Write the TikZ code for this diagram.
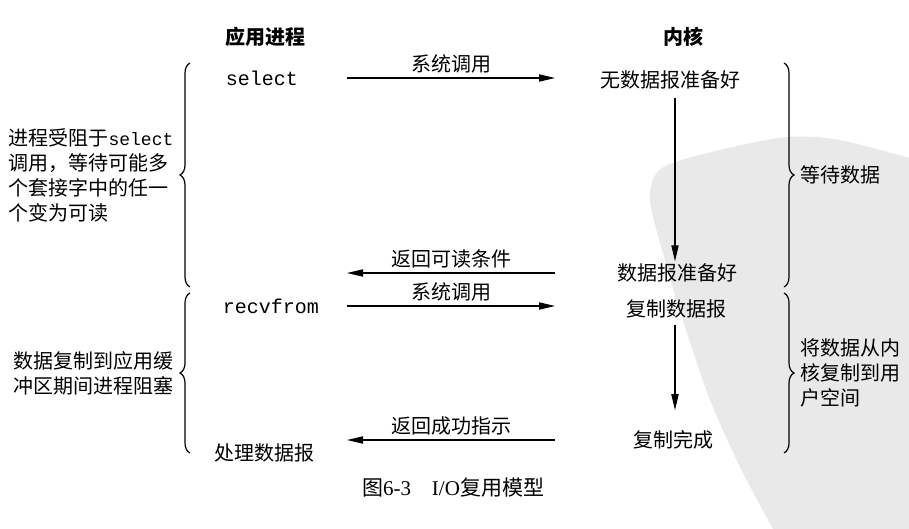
\documentclass[tikz,border=0pt]{standalone}
\usepackage{fontspec}
\setmainfont{Liberation Serif}
\newfontfamily\cjk{Noto Sans CJK SC}
\newfontfamily\mono{Liberation Mono}
\usetikzlibrary{positioning,arrows.meta,calc,decorations.pathreplacing}
\definecolor{wmgray}{HTML}{E9E9E9}

\begin{document}
\begin{tikzpicture}[x=0.5pt,y=-0.5pt,
 lbl/.style={font=\cjk\fontsize{10}{12.5}\selectfont,inner sep=1pt,align=left},
 head/.style={lbl,font=\cjk\bfseries\fontsize{10}{12.5}\selectfont},
 code/.style={font=\mono\fontsize{10}{12}\selectfont,inner sep=1pt},
 arr/.style={-{Triangle[length=8pt,width=3.6pt]},line width=0.6pt},
 brc/.style={decorate,decoration={brace,amplitude=5pt},line width=0.6pt}]
\useasboundingbox (0,0) rectangle (909,529);
% watermark in the background
\fill[wmgray] plot[smooth] coordinates {(909,158) (840,140) (787,137) (720,150) (662,168) (650,200) (667,267) (687,333) (710,400) (740,467) (773,529)} -- (909,529) -- cycle;
% column heads
\node[head] (apphd) at (265,37) {应用进程};
\node[head] (kerhd) at (683,37) {内核};
% application side
\node[code] (sel) at (262,78) {select};
\node[code] (recv) at (271,306) {recvfrom};
\node[lbl] (proc) at (264,453) {处理数据报};
% kernel side
\node[lbl] (nodata) at (670,80) {无数据报准备好};
\node[lbl] (rdy) at (677,273) {数据报准备好};
\node[lbl] (cpy) at (676,309) {复制数据报};
\node[lbl] (done) at (673,440) {复制完成};
\node[font=\fontsize{10.5}{12}\selectfont] (cap) at (453,488) {{\cjk 图}6-3\quad I/O{\cjk 复用模型}};
\coordinate (appr) at (347,0); \coordinate (kerl) at (555,0); \coordinate (vx) at (675,0);
% calls and returns
\draw[arr] (sel -| appr) -- (sel -| kerl) node[lbl,midway,above=1pt] (call1) {系统调用};
\draw[arr] (rdy -| kerl) -- (rdy -| appr) node[lbl,midway,above=1pt] (ret1) {返回可读条件};
\draw[arr] (recv -| appr) -- (recv -| kerl) node[lbl,midway,above=1pt] (call2) {系统调用};
\draw[arr] (done -| kerl) -- (done -| appr) node[lbl,midway,above=1pt] (ret2) {返回成功指示};
\draw[arr,shorten <=3pt] (nodata.south -| vx) -- (rdy.north -| vx);
\draw[arr,shorten <=2pt,shorten >=9pt] (cpy.south -| vx) -- (done.north -| vx);
% braces
\draw[brc] (190,287) -- (190,63) node[lbl,midway,left=7pt] (blk1) {进程受阻于{\mono\fontsize{9}{12.5}\selectfont select}\\调用，等待可能多\\个套接字中的任一\\个变为可读};
\draw[brc] (190,453) -- (190,293) node[lbl,midway,left=7pt] (blk2) {数据复制到应用缓\\冲区期间进程阻塞};
\draw[brc] (784,63) -- (784,287) node[lbl,midway,right=7pt] (wait) {等待数据};
\draw[brc] (784,293) -- (784,453) node[lbl,midway,right=7pt] (copy) {将数据从内\\核复制到用\\户空间};
\end{tikzpicture}
\end{document}
